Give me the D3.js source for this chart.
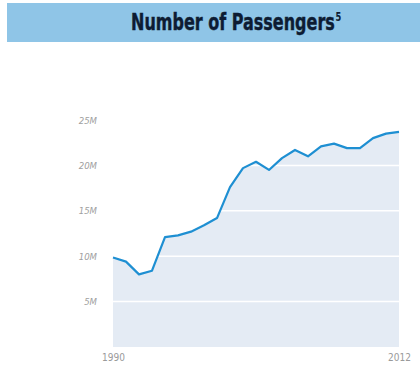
<!DOCTYPE html>
<html><head><meta charset="utf-8">
<script src="https://cdn.jsdelivr.net/npm/d3@7"></script>
<style>body{margin:0;background:#fff}svg{display:block}</style>
</head><body>
<script>
const years = d3.range(1990, 2013);
const passengers = [9.85, 9.4, 8.0, 8.4, 12.1, 12.3, 12.7, 13.4, 14.2, 17.6, 19.7, 20.4, 19.5, 20.8, 21.7, 21.0, 22.1, 22.4, 21.9, 21.9, 23.0, 23.5, 23.7];
const yTicks = [5, 10, 15, 20, 25];
const yTickLabels = ["5M", "10M", "15M", "20M", "25M"];
const xTickLabels = ["1990", "2012"];
const title = "Number of Passengers";
const titleNote = "5";

const W = 420, H = 368;
const svg = d3.select("body").append("svg").attr("width", W).attr("height", H);

// banner
svg.append("rect").attr("x", 7).attr("y", 3).attr("width", 413).attr("height", 39).attr("fill", "#8fc5e7");
const tf = "'DejaVu Sans Condensed','Liberation Sans',sans-serif";
const t = svg.append("text").attr("x", 0).attr("y", 0)
  .attr("font-family", tf).attr("font-weight", "bold").attr("font-size", 23)
  .attr("fill", "#0d1c33");
const t1 = t.append("tspan").attr("stroke", "#0d1c33").attr("stroke-width", 0.4).text(title);
t.append("tspan").attr("dx", 1).attr("dy", -9).attr("font-size", 12).text(titleNote);
const natural = t1.node().getComputedTextLength();
const sx = 204 / natural;
t.attr("transform", `translate(131,30) scale(${sx},1)`);

const x = d3.scaleLinear().domain([1990, 2012]).range([113, 399]);
const y = d3.scaleLinear().domain([0, 25]).range([347, 120]);

const data = years.map((yr, i) => ({yr, v: passengers[i]}));

svg.append("path").datum(data)
  .attr("d", d3.area().x(d => x(d.yr)).y0(y(0)).y1(d => y(d.v)))
  .attr("fill", "#e4ebf4");

// gridlines
svg.append("g").selectAll("line").data(yTicks.slice(0, 4)).join("line")
  .attr("x1", x(1990)).attr("x2", x(2012))
  .attr("y1", d => y(d)).attr("y2", d => y(d))
  .attr("stroke", "#ffffff").attr("stroke-width", 1.5);

svg.append("path").datum(data)
  .attr("d", d3.line().x(d => x(d.yr)).y(d => y(d.v)))
  .attr("fill", "none").attr("stroke", "#1e8fd2").attr("stroke-width", 2.2).attr("stroke-linejoin", "round");

// y axis labels
const yAxis = d3.axisLeft(y).tickValues(yTicks).tickFormat((d, i) => yTickLabels[i]).tickSize(0).tickPadding(0);
const gy = svg.append("g").attr("transform", "translate(97,0)").call(yAxis);
gy.select(".domain").remove();
gy.selectAll("text").attr("font-family", "'DejaVu Sans Condensed',sans-serif")
  .attr("font-size", 9.5).attr("fill", "#a0a0a0").attr("font-style", "italic");

const xAxis = d3.axisBottom(x).tickValues([1990, 2012]).tickFormat((d, i) => xTickLabels[i]).tickSize(0).tickPadding(0);
const gx = svg.append("g").attr("transform", "translate(0,354)").call(xAxis);
gx.select(".domain").remove();
gx.selectAll("text").attr("font-family", "'DejaVu Sans Condensed',sans-serif")
  .attr("font-size", 10).attr("fill", "#9a9a9a");
</script>
</body></html>
